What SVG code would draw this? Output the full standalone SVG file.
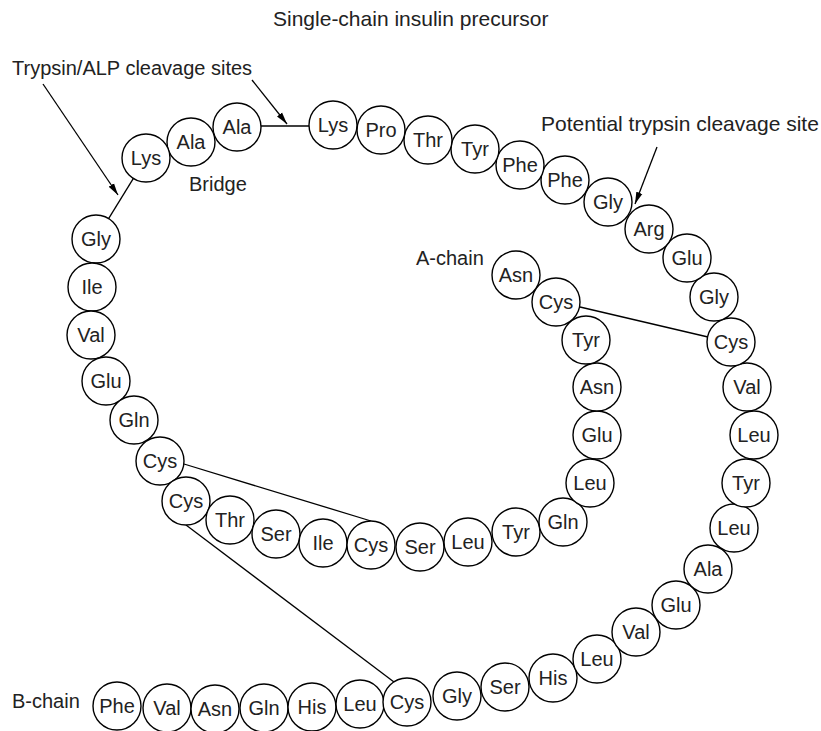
<svg xmlns="http://www.w3.org/2000/svg" width="821" height="731" viewBox="0 0 821 731">
<style>
text{font-family:"Liberation Sans",Arial,sans-serif;font-size:20px;fill:#222}
.big{font-size:21px}
.r circle{fill:#fff;stroke:#000;stroke-width:1.4}
.r text{text-anchor:middle}
.c line{stroke:#000;stroke-width:1.3}
.a{marker-end:url(#ah)}
</style>
<defs>
<marker id="ah" viewBox="0 0 12 8" refX="12" refY="4" markerWidth="12" markerHeight="8" markerUnits="userSpaceOnUse" orient="auto">
<path d="M0,0.8 L12,4 L0,7.2 Z" fill="#000"/>
</marker>
</defs>
<rect width="821" height="731" fill="#fff"/>
<g id="labels">
<text class="big" x="273" y="26">Single-chain insulin precursor</text>
<text x="12" y="75">Trypsin/ALP cleavage sites</text>
<text x="189" y="191">Bridge</text>
<text class="big" x="541" y="131">Potential trypsin cleavage site</text>
<text x="416" y="265">A-chain</text>
<text x="12" y="708">B-chain</text>
</g>
<g id="connectors" class="c">
<line x1="133.4" y1="178.4" x2="108.6" y2="218.6"/>
<line x1="261" y1="126" x2="309" y2="126"/>
<line x1="184" y1="464" x2="371" y2="521"/>
<line x1="186" y1="525" x2="394" y2="682"/>
<line x1="580" y1="307" x2="708" y2="337"/>
<line class="a" x1="43" y1="84" x2="118" y2="195"/>
<line class="a" x1="252" y1="80" x2="287" y2="124"/>
<line class="a" x1="657" y1="147" x2="635" y2="204"/>
</g>
<g id="B1" class="r"><circle cx="117" cy="706" r="24"/><text x="117" y="713">Phe</text></g>
<g id="B2" class="r"><circle cx="167" cy="708" r="24"/><text x="167" y="715">Val</text></g>
<g id="B3" class="r"><circle cx="215" cy="709" r="24"/><text x="215" y="716">Asn</text></g>
<g id="B4" class="r"><circle cx="264" cy="708" r="24"/><text x="264" y="715">Gln</text></g>
<g id="B5" class="r"><circle cx="312" cy="707" r="24"/><text x="312" y="714">His</text></g>
<g id="B6" class="r"><circle cx="360" cy="704" r="24"/><text x="360" y="711">Leu</text></g>
<g id="B7" class="r"><circle cx="407" cy="702" r="24"/><text x="407" y="709">Cys</text></g>
<g id="B8" class="r"><circle cx="457" cy="696" r="24"/><text x="457" y="703">Gly</text></g>
<g id="B9" class="r"><circle cx="505" cy="687" r="24"/><text x="505" y="694">Ser</text></g>
<g id="B10" class="r"><circle cx="553" cy="678" r="24"/><text x="553" y="685">His</text></g>
<g id="B11" class="r"><circle cx="597" cy="659" r="24"/><text x="597" y="666">Leu</text></g>
<g id="B12" class="r"><circle cx="636" cy="632" r="24"/><text x="636" y="639">Val</text></g>
<g id="B13" class="r"><circle cx="676" cy="605" r="24"/><text x="676" y="612">Glu</text></g>
<g id="B14" class="r"><circle cx="708" cy="569" r="24"/><text x="708" y="576">Ala</text></g>
<g id="B15" class="r"><circle cx="734" cy="528" r="24"/><text x="734" y="535">Leu</text></g>
<g id="B16" class="r"><circle cx="746" cy="483" r="24"/><text x="746" y="490">Tyr</text></g>
<g id="B17" class="r"><circle cx="754" cy="435" r="24"/><text x="754" y="442">Leu</text></g>
<g id="B18" class="r"><circle cx="747" cy="387" r="24"/><text x="747" y="394">Val</text></g>
<g id="B19" class="r"><circle cx="731" cy="342" r="24"/><text x="731" y="349">Cys</text></g>
<g id="B20" class="r"><circle cx="714" cy="297" r="24"/><text x="714" y="304">Gly</text></g>
<g id="B21" class="r"><circle cx="687" cy="258" r="24"/><text x="687" y="265">Glu</text></g>
<g id="B22" class="r"><circle cx="649" cy="229" r="24"/><text x="649" y="236">Arg</text></g>
<g id="B23" class="r"><circle cx="608" cy="202" r="24"/><text x="608" y="209">Gly</text></g>
<g id="B24" class="r"><circle cx="565" cy="180" r="24"/><text x="565" y="187">Phe</text></g>
<g id="B25" class="r"><circle cx="520" cy="165" r="24"/><text x="520" y="172">Phe</text></g>
<g id="B26" class="r"><circle cx="475" cy="149" r="24"/><text x="475" y="156">Tyr</text></g>
<g id="B27" class="r"><circle cx="428" cy="140" r="24"/><text x="428" y="147">Thr</text></g>
<g id="B28" class="r"><circle cx="381" cy="130" r="24"/><text x="381" y="137">Pro</text></g>
<g id="B29" class="r"><circle cx="333" cy="125" r="24"/><text x="333" y="132">Lys</text></g>
<g id="bridge1" class="r"><circle cx="237" cy="127" r="24"/><text x="237" y="134">Ala</text></g>
<g id="bridge2" class="r"><circle cx="191" cy="142" r="24"/><text x="191" y="149">Ala</text></g>
<g id="bridge3" class="r"><circle cx="146" cy="158" r="24"/><text x="146" y="165">Lys</text></g>
<g id="A1" class="r"><circle cx="96" cy="239" r="24"/><text x="96" y="246">Gly</text></g>
<g id="A2" class="r"><circle cx="92" cy="287" r="24"/><text x="92" y="294">Ile</text></g>
<g id="A3" class="r"><circle cx="91" cy="335" r="24"/><text x="91" y="342">Val</text></g>
<g id="A4" class="r"><circle cx="106" cy="381" r="24"/><text x="106" y="388">Glu</text></g>
<g id="A5" class="r"><circle cx="134" cy="420" r="24"/><text x="134" y="427">Gln</text></g>
<g id="A6" class="r"><circle cx="160" cy="461" r="24"/><text x="160" y="468">Cys</text></g>
<g id="A7" class="r"><circle cx="186" cy="501" r="24"/><text x="186" y="508">Cys</text></g>
<g id="A8" class="r"><circle cx="230" cy="520" r="24"/><text x="230" y="527">Thr</text></g>
<g id="A9" class="r"><circle cx="276" cy="534" r="24"/><text x="276" y="541">Ser</text></g>
<g id="A10" class="r"><circle cx="323" cy="543" r="24"/><text x="323" y="550">Ile</text></g>
<g id="A11" class="r"><circle cx="371" cy="545" r="24"/><text x="371" y="552">Cys</text></g>
<g id="A12" class="r"><circle cx="420" cy="547" r="24"/><text x="420" y="554">Ser</text></g>
<g id="A13" class="r"><circle cx="468" cy="542" r="24"/><text x="468" y="549">Leu</text></g>
<g id="A14" class="r"><circle cx="516" cy="532" r="24"/><text x="516" y="539">Tyr</text></g>
<g id="A15" class="r"><circle cx="563" cy="522" r="24"/><text x="563" y="529">Gln</text></g>
<g id="A16" class="r"><circle cx="590" cy="483" r="24"/><text x="590" y="490">Leu</text></g>
<g id="A17" class="r"><circle cx="597" cy="435" r="24"/><text x="597" y="442">Glu</text></g>
<g id="A18" class="r"><circle cx="597" cy="387" r="24"/><text x="597" y="394">Asn</text></g>
<g id="A19" class="r"><circle cx="586" cy="340" r="24"/><text x="586" y="347">Tyr</text></g>
<g id="A20" class="r"><circle cx="556" cy="302" r="24"/><text x="556" y="309">Cys</text></g>
<g id="A21" class="r"><circle cx="516" cy="275" r="24"/><text x="516" y="282">Asn</text></g>
</svg>
